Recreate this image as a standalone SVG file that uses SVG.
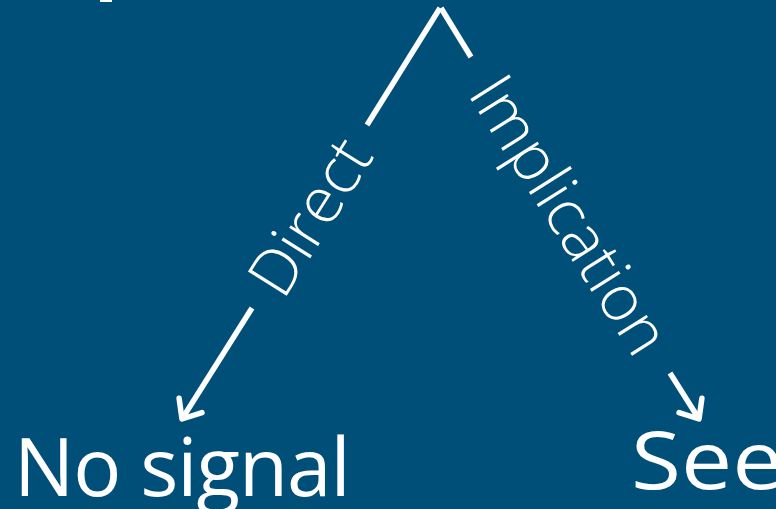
<svg xmlns="http://www.w3.org/2000/svg" width="776" height="509" viewBox="0 0 776 509">
<style>
.bg{fill:#004f79}
.ln{fill:none;stroke:#fff;stroke-width:5.5;stroke-linecap:butt}
.lbl{fill:#fff;font-family:"Open Sans","Noto Sans",sans-serif;font-size:64px;font-weight:300}
.big{fill:#fff;font-family:"Open Sans","Noto Sans",sans-serif;font-size:80px;font-weight:400}
</style>
<defs>
<marker id="arr" markerUnits="userSpaceOnUse" markerWidth="40" markerHeight="40" viewBox="-25 -20 30 40" refX="0" refY="0" orient="auto" overflow="visible">
<path d="M-16,-13.5 L0,0 L-16,13.5" fill="none" stroke="#fff" stroke-width="5.5" stroke-linecap="round" stroke-linejoin="round"/>
</marker>
</defs>
<rect class="bg" x="0" y="0" width="776" height="509"/>
<rect x="100" y="0" width="12" height="2" fill="#fff"/>
<g id="connectors">
<line class="ln" x1="440" y1="8" x2="367" y2="125"/>
<line class="ln" x1="252" y1="308" x2="182" y2="419" marker-end="url(#arr)"/>
<line class="ln" x1="441" y1="8" x2="471" y2="57"/>
<line class="ln" x1="670" y1="373" x2="699" y2="419" marker-end="url(#arr)"/>
<text class="lbl" text-anchor="middle" transform="translate(309.5,216.4) rotate(-57.8)" x="0" y="23">Direct</text>
<text class="lbl" text-anchor="middle" transform="translate(570.4,214.7) rotate(57.8)" x="0" y="23">Implication</text>
</g>
<g id="node-nosignal">
<text class="big" x="14" y="496" letter-spacing="-1">No signal</text>
</g>
<g id="node-see">
<text class="big" transform="translate(631,489) scale(1.14,1)" x="0" y="0" font-size="68" font-weight="300">See</text>
</g>
</svg>
